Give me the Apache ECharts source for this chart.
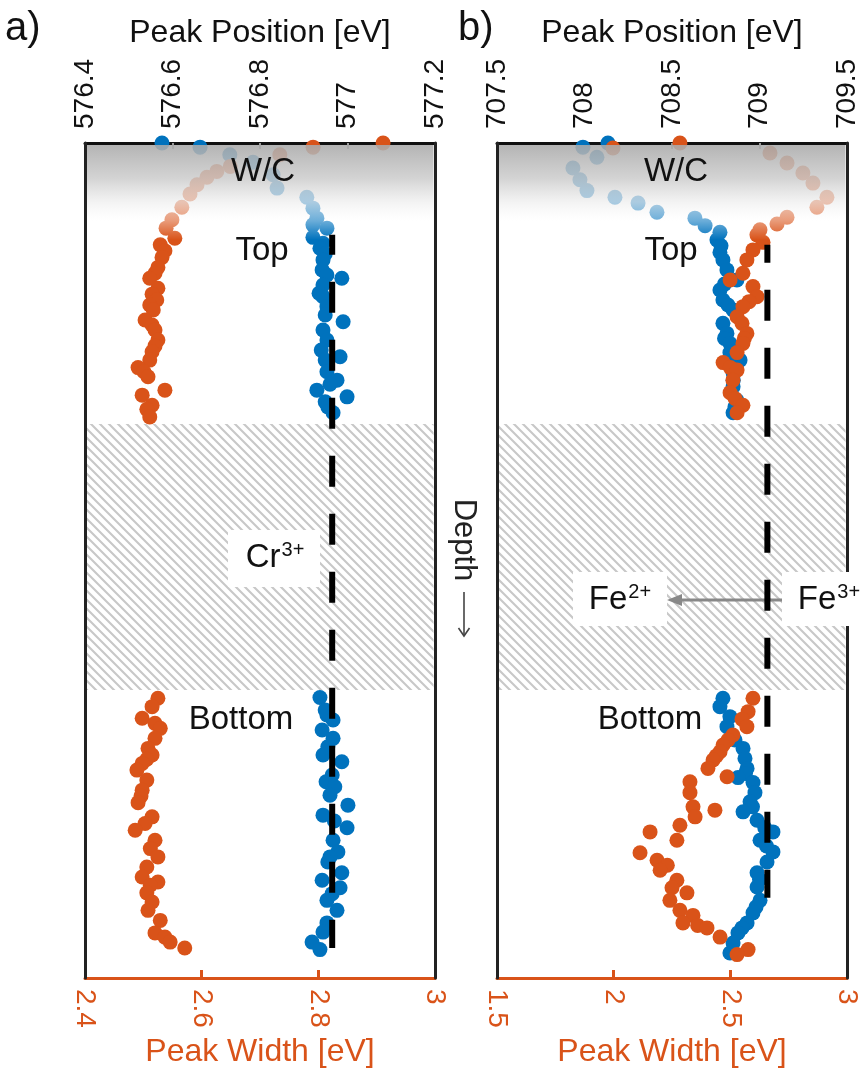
<!DOCTYPE html>
<html>
<head>
<meta charset="utf-8">
<script src="https://cdn.jsdelivr.net/npm/echarts@6/dist/echarts.min.js"></script>
<style>
  html, body { margin: 0; padding: 0; background: #fff; }
  #chart { width: 866px; height: 1078px; }
</style>
</head>
<body>
<div id="chart"></div>
<script>
// ---------- Data: [value, depth (0 = top surface, 100 = bottom of frame)] ----------
// Panel a (Cr): peak position [eV] (blue) and peak width [eV] (orange)
const crPosition = [
  [576.576,0],[576.663,0.5],[576.731,1.4],[576.784,2.3],[576.830,3.8],[576.839,5.4],[576.907,6.5],
  [576.921,7.8],[576.930,9.0],[576.921,9.8],[576.953,10.2],[576.921,11.3],[576.944,12.0],[576.937,12.6],
  [576.949,13.3],[576.944,14.0],[576.942,15.2],[576.953,15.8],[576.987,16.2],[576.944,17.0],[576.935,18.0],
  [576.944,18.4],[576.953,19.6],[576.949,20.6],[576.990,21.4],[576.944,22.4],[576.953,23.6],[576.940,24.8],
  [576.983,25.6],[576.949,26.0],[576.953,27.4],[576.976,28.4],[576.960,28.9],[576.930,29.6],[576.999,30.4],
  [576.949,31.0],[576.955,31.6],[576.967,32.3],
  [576.937,66.4],[576.949,67.9],[576.953,68.5],[576.967,69.1],[576.942,70.3],[576.967,71.3],[576.955,72.3],
  [576.944,73.3],[576.987,74.1],[576.965,75.7],[576.951,76.5],[576.971,77.1],[576.960,78.1],[577.001,79.3],
  [576.944,80.5],[576.970,81.2],[576.999,82.0],[576.967,83.5],[576.978,84.9],[576.960,85.5],[576.955,86.1],
  [576.987,87.4],[576.942,88.3],[576.983,89.2],[576.965,89.9],[576.953,90.7],[576.976,91.9],[576.953,93.4],
  [576.944,94.5],[576.919,95.7],[576.937,96.6]
];
const crWidth = [
  [2.911,0],[2.791,0.5],[2.734,1.4],[2.649,2.8],[2.626,3.4],[2.609,4.1],[2.592,5.0],[2.580,6.1],
  [2.566,7.7],[2.549,9.2],[2.539,10.2],[2.554,11.4],[2.529,12.2],[2.537,12.9],[2.532,13.7],[2.525,14.9],
  [2.520,15.6],[2.511,16.2],[2.525,17.4],[2.515,18.1],[2.523,18.8],[2.511,19.4],[2.517,20.0],[2.503,21.2],
  [2.515,21.8],[2.520,22.4],[2.525,23.6],[2.520,24.3],[2.515,25.0],[2.511,26.0],[2.491,26.9],[2.501,27.4],
  [2.508,28.0],[2.537,29.6],[2.498,30.2],[2.515,31.4],[2.506,31.9],[2.511,32.8],
  [2.525,66.5],[2.515,67.5],[2.498,68.9],[2.520,69.5],[2.529,70.1],[2.520,71.3],[2.508,72.5],[2.515,73.3],
  [2.506,73.8],[2.498,74.3],[2.489,75.1],[2.506,76.3],[2.498,77.5],[2.496,78.2],[2.491,79.0],[2.515,80.7],
  [2.503,81.5],[2.486,82.3],[2.520,83.5],[2.512,84.5],[2.525,85.5],[2.506,86.7],[2.498,87.9],[2.525,88.5],
  [2.512,88.9],[2.506,89.8],[2.515,90.9],[2.508,91.9],[2.529,93.1],[2.520,94.6],[2.537,95.1],[2.546,95.7],
  [2.571,96.4]
];
// Panel b (Fe)
const fePosition = [
  [708.134,0],[707.991,0.5],[708.071,1.7],[707.934,3.0],[707.974,4.4],[708.014,5.7],[708.174,6.5],
  [708.306,7.2],[708.414,8.3],[708.631,9.0],[708.689,9.9],[708.774,10.7],[708.757,11.6],[708.780,12.3],
  [708.774,13.1],[708.791,14.0],[708.814,15.2],[708.871,16.4],[708.800,16.9],[708.774,17.6],[708.791,18.8],
  [708.820,19.4],[708.849,20.0],[708.791,21.6],[708.814,22.8],[708.800,23.4],[708.831,24.0],[708.831,25.1],
  [708.889,26.0],[708.840,26.7],[708.849,27.5],[708.850,28.4],[708.849,29.2],[708.871,30.8],[708.860,31.6],
  [708.849,32.3],
  [708.791,66.5],[708.774,67.5],[708.831,68.7],[708.814,69.9],[708.860,71.5],[708.906,72.5],[708.917,73.7],
  [708.929,74.9],[708.920,75.5],[708.877,76.0],[708.963,76.6],[708.974,77.8],[708.946,78.9],[708.960,79.5],
  [708.906,80.1],[708.986,81.1],[709.030,82.0],[709.077,82.5],[709.003,83.5],[709.040,84.2],[709.077,84.9],
  [709.043,86.1],[708.986,87.4],[709.000,88.2],[708.986,89.1],[709.003,90.7],[708.980,91.5],[708.963,92.2],
  [708.929,93.4],[708.900,94.0],[708.877,94.6],[708.849,95.8],[708.831,97.0]
];
const feWidth = [
  [2.284,0],[1.997,0.6],[2.670,1.2],[2.743,2.4],[2.811,3.6],[2.854,4.8],[2.914,6.5],[2.871,7.7],
  [2.743,8.9],[2.700,9.7],[2.627,10.4],[2.614,11.0],[2.640,11.9],[2.597,12.8],[2.571,14.0],[2.554,15.6],
  [2.499,16.4],[2.597,17.2],[2.614,18.4],[2.580,19.0],[2.554,19.6],[2.529,20.8],[2.550,21.6],[2.571,22.8],
  [2.560,23.4],[2.554,24.0],[2.529,25.1],[2.469,26.3],[2.500,26.9],[2.529,27.2],[2.511,28.4],[2.499,29.9],
  [2.520,30.6],[2.554,31.4],[2.529,32.3],
  [2.597,66.5],[2.576,68.1],[2.550,69.0],[2.571,69.9],[2.511,70.9],[2.490,71.5],[2.469,72.1],[2.456,72.9],
  [2.440,73.4],[2.426,73.9],[2.404,74.9],[2.486,75.9],[2.327,76.5],[2.327,77.8],[2.340,79.5],[2.434,79.9],
  [2.349,80.7],[2.284,81.7],[2.156,82.5],[2.271,83.5],[2.113,85.0],[2.186,85.9],[2.230,86.5],[2.199,87.1],
  [2.271,88.3],[2.250,89.2],[2.314,89.8],[2.241,90.7],[2.284,91.9],[2.340,92.5],[2.297,93.4],[2.360,93.7],
  [2.400,94.0],[2.456,95.1],[2.576,96.6],[2.529,97.2]
];
// Reference positions (dashed lines): [position, depth]
const crReference = [[576.965, 11.0], [576.965, 96.4]];
const feReference = [[709.045, 12.2], [709.045, 90.4]];
// Depth bands
const surfaceBand = [[0.25, 11.6]];   // W/C (gray fade)
const gapBand = [[33.65, 65.5]];      // hatched (no data)
// Axes [min, max, interval]
const crPosRange = [576.4, 577.2, 0.2];
const crWidthRange = [2.4, 3, 0.2];
const fePosRange = [707.5, 709.5, 0.5];
const feWidthRange = [1.5, 3, 0.5];

// ---------- Styles ----------
const BLUE = '#0072BD', ORANGE = '#D95319';
const FONT = '"Liberation Sans", Arial, Helvetica, sans-serif';

const T = 9;
const hatch = document.createElement('canvas');
hatch.width = T; hatch.height = T;
(function () {
  const c = hatch.getContext('2d');
  c.strokeStyle = '#c8c8c8';
  c.lineWidth = 2.1;
  c.beginPath();
  c.moveTo(-2, -2); c.lineTo(T + 2, T + 2);
  c.moveTo(-2, T - 2); c.lineTo(2, T + 2);
  c.moveTo(T - 2, -2); c.lineTo(T + 2, 2);
  c.stroke();
})();
const hatchPattern = { image: hatch, repeat: 'repeat' };

const fmt = v => String(parseFloat(Number(v).toFixed(2)));

function topAxis(grid, r) {
  return {
    type: 'value', gridIndex: grid, position: 'top', min: r[0], max: r[1], interval: r[2],
    name: 'Peak Position [eV]', nameLocation: 'middle', nameGap: 94,
    nameTextStyle: { fontSize: 32, color: '#111', fontFamily: FONT },
    axisLine: { show: true, onZero: false, lineStyle: { color: '#111', width: 3 } },
    axisTick: { show: true, inside: true, length: 6, lineStyle: { color: '#999', width: 2 } },
    axisLabel: { rotate: -90, margin: 14, fontSize: 28, color: '#111', fontFamily: FONT, formatter: fmt,
                 showMinLabel: true, showMaxLabel: true },
    splitLine: { show: false }
  };
}
function bottomAxis(grid, r) {
  return {
    type: 'value', gridIndex: grid, position: 'bottom', min: r[0], max: r[1], interval: r[2],
    name: 'Peak Width [eV]', nameLocation: 'middle', nameGap: 57,
    nameTextStyle: { fontSize: 32, color: ORANGE, fontFamily: FONT },
    axisLine: { show: true, onZero: false, lineStyle: { color: ORANGE, width: 3 } },
    axisTick: { show: true, inside: true, length: 8, lineStyle: { color: ORANGE, width: 3 } },
    axisLabel: { rotate: -90, margin: 11, fontSize: 28, color: ORANGE, fontFamily: FONT, formatter: fmt,
                 showMinLabel: true, showMaxLabel: true },
    splitLine: { show: false }
  };
}
function depthAxis(grid, pos) {
  return {
    type: 'value', gridIndex: grid, position: pos, min: 0, max: 100, inverse: true, z: 6,
    axisLine: { show: true, onZero: false, lineStyle: { color: '#222', width: 3 } },
    axisTick: { show: false }, axisLabel: { show: false }, splitLine: { show: false }
  };
}

function bandSeries(xi, yi, data, fill, z) {
  return {
    type: 'custom', xAxisIndex: xi, yAxisIndex: yi, z: z, silent: true, clip: false,
    data: data,
    renderItem: function (params, api) {
      const cs = params.coordSys;
      const y0 = api.coord([0, api.value(0)])[1];
      const y1 = api.coord([0, api.value(1)])[1];
      return { type: 'rect', shape: { x: cs.x + 1.5, y: y0, width: cs.width - 3, height: y1 - y0 },
               style: { fill: fill } };
    },
    encode: { y: [0, 1] }
  };
}
function overlayFill() {
  return new echarts.graphic.LinearGradient(0, 0, 0, 1, [
    { offset: 0, color: 'rgba(170,170,170,0.88)' },
    { offset: 0.35, color: 'rgba(203,203,203,0.84)' },
    { offset: 0.6, color: 'rgba(238,238,238,0.72)' },
    { offset: 0.8, color: 'rgba(255,255,255,0.42)' },
    { offset: 1, color: 'rgba(255,255,255,0)' }
  ]);
}
function scatter(xi, yi, data, color) {
  return { type: 'scatter', xAxisIndex: xi, yAxisIndex: yi, data: data, symbolSize: 15, z: 2, clip: false,
           itemStyle: { color: color, opacity: 1 }, silent: true };
}
function refLine(xi, yi, data, offset) {
  return { type: 'line', xAxisIndex: xi, yAxisIndex: yi, data: data, symbol: 'none', z: 5, silent: true,
           lineStyle: { color: '#000', width: 6, type: [31, 27], dashOffset: offset, cap: 'butt' } };
}

const chart = echarts.init(document.getElementById('chart'), null, { renderer: 'canvas' });

function txt(x, y, text, size, align) {
  return {
    type: 'text', x: x, y: y, z: 10, silent: true,
    style: { text: text, fontSize: size, fontFamily: FONT, fill: '#111', align: align || 'center', verticalAlign: 'middle' }
  };
}
function ionText(x, y, el, charge) {
  return {
    type: 'text', x: x, y: y, z: 10, silent: true,
    style: {
      text: '{m|' + el + '}{s|' + charge + '}', align: 'center', verticalAlign: 'middle',
      rich: {
        m: { fontSize: 33, fontFamily: FONT, fill: '#111', lineHeight: 36 },
        s: { fontSize: 20, fontFamily: FONT, fill: '#111', verticalAlign: 'top', lineHeight: 36, padding: [0, 0, 14, 1] }
      }
    }
  };
}
function box(x, y, w, h) {
  return { type: 'rect', z: 9, silent: true, shape: { x: x, y: y, width: w, height: h }, style: { fill: '#fff' } };
}

chart.setOption({
  animation: false,
  backgroundColor: '#fff',
  grid: [
    { left: 85, top: 143, width: 350, height: 835 },
    { left: 497, top: 143, width: 350, height: 835 }
  ],
  xAxis: [
    topAxis(0, crPosRange), bottomAxis(0, crWidthRange),
    topAxis(1, fePosRange), bottomAxis(1, feWidthRange)
  ],
  yAxis: [depthAxis(0, 'left'), depthAxis(0, 'right'), depthAxis(1, 'left'), depthAxis(1, 'right')],
  series: [
    bandSeries(0, 0, gapBand, hatchPattern, 1),
    bandSeries(2, 2, gapBand, hatchPattern, 1),
    scatter(0, 0, crPosition, BLUE),
    scatter(1, 0, crWidth, ORANGE),
    scatter(2, 2, fePosition, BLUE),
    scatter(3, 2, feWidth, ORANGE),
    bandSeries(0, 0, surfaceBand, overlayFill(), 3),
    bandSeries(2, 2, surfaceBand, overlayFill(), 3),
    refLine(0, 0, crReference, 11),
    refLine(2, 2, feReference, 13)
  ],
  graphic: [
    txt(5, 29, 'a)', 40, 'left'),
    txt(458, 29, 'b)', 40, 'left'),
    txt(263, 172, 'W/C', 33), txt(676, 172, 'W/C', 33),
    txt(262, 251, 'Top', 33), txt(671, 251, 'Top', 33),
    txt(241, 720, 'Bottom', 33), txt(650, 720, 'Bottom', 33),
    { type: 'text', x: 464, y: 540, rotation: -Math.PI / 2, z: 10, silent: true,
      style: { text: 'Depth', fontSize: 31, fontFamily: FONT, fill: '#222', align: 'center', verticalAlign: 'middle' } },
    { type: 'line', z: 10, silent: true, shape: { x1: 464, y1: 592, x2: 464, y2: 636 },
      style: { stroke: '#444', lineWidth: 1.6 } },
    { type: 'polyline', z: 10, silent: true, shape: { points: [[458.5, 628], [464, 636], [469.5, 628]] },
      style: { stroke: '#444', lineWidth: 1.6, fill: null } },
    box(228, 530, 92, 57), ionText(275, 558, 'Cr', '3+'),
    box(573, 572, 94, 54), ionText(620, 600, 'Fe', '2+'),
    box(782, 572, 84, 54), ionText(829, 600, 'Fe', '3+'),
    { type: 'line', z: 4, silent: true, shape: { x1: 783, y1: 600, x2: 678, y2: 600 },
      style: { stroke: '#888', lineWidth: 3 } },
    { type: 'polygon', z: 4, silent: true, shape: { points: [[667, 600], [682, 594], [682, 606]] },
      style: { fill: '#888' } }
  ]
});
</script>
</body>
</html>
